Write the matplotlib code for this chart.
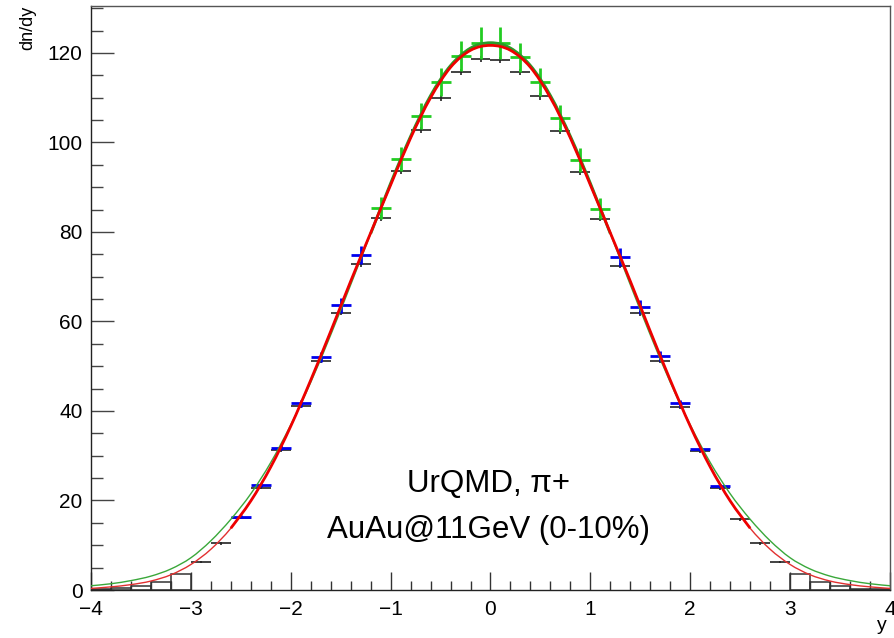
import numpy as np
import matplotlib
matplotlib.use("Agg")
import matplotlib.pyplot as plt
from matplotlib.path import Path
from matplotlib.patches import PathPatch
from matplotlib.ticker import MultipleLocator

plt.rcParams['font.family'] = ['Liberation Sans', 'DejaVu Sans']

# ---- full UrQMD histogram, bin width 0.2 ----
bin_half = 0.1
hist_y = [-2.9, -2.7, -2.5, -2.3, -2.1, -1.9, -1.7, -1.5, -1.3, -1.1,
          -0.9, -0.7, -0.5, -0.3, -0.1, 0.1, 0.3, 0.5, 0.7, 0.9,
          1.1, 1.3, 1.5, 1.7, 1.9, 2.1, 2.3, 2.5, 2.7, 2.9]
hist_dndy = [6.2, 10.4, 16.1, 22.9, 31.2, 41.1, 51.2, 61.9, 72.8, 83.1,
             93.6, 102.8, 109.9, 115.8, 118.7, 118.5, 115.7, 110.3, 102.5, 93.4,
             83.0, 72.5, 61.8, 51.2, 40.9, 31.1, 22.8, 15.8, 10.4, 6.3]
hist_err = [0.2, 0.25, 0.3, 0.35, 0.4, 0.45, 0.5, 0.55, 0.6, 0.6,
            0.65, 0.65, 0.7, 0.7, 0.7, 0.7, 0.7, 0.7, 0.65, 0.65,
            0.6, 0.6, 0.55, 0.5, 0.45, 0.4, 0.35, 0.3, 0.25, 0.2]

# tail bins drawn as open bars
tail_y = [-3.9, -3.7, -3.5, -3.3, -3.1, 3.1, 3.3, 3.5, 3.7, 3.9]
tail_dndy = [0.3, 0.35, 0.9, 1.7, 3.5, 3.5, 1.7, 0.8, 0.25, 0.3]

# ---- mid-rapidity acceptance (green) ----
green_y = [-1.1, -0.9, -0.7, -0.5, -0.3, -0.1, 0.1, 0.3, 0.5, 0.7, 0.9, 1.1]
green_dndy = [85.4, 96.4, 105.9, 113.5, 119.3, 122.2,
              122.2, 119.0, 113.6, 105.5, 96.1, 85.2]
green_err = [2.4, 2.7, 2.9, 3.1, 3.3, 3.5, 3.5, 3.3, 3.1, 2.9, 2.7, 2.4]

# ---- forward acceptance (blue) ----
blue_y = [-2.5, -2.3, -2.1, -1.9, -1.7, -1.5, -1.3,
          1.3, 1.5, 1.7, 1.9, 2.1, 2.3]
blue_dndy = [16.4, 23.4, 31.8, 41.7, 52.1, 63.6, 74.8,
             74.4, 63.2, 52.2, 41.7, 31.6, 23.2]
blue_err = [0.3, 0.45, 0.6, 0.8, 1.1, 1.6, 2.0,
            2.0, 1.6, 1.1, 0.8, 0.6, 0.45]

# ---- fit curves ----
curve_y = [-4.0, -3.8, -3.6, -3.4, -3.2, -3.0, -2.8, -2.6, -2.4, -2.2, -2.0,
           -1.8, -1.6, -1.4, -1.2, -1.0, -0.8, -0.6, -0.4, -0.2, 0.0,
           0.2, 0.4, 0.6, 0.8, 1.0, 1.2, 1.4, 1.6, 1.8, 2.0,
           2.2, 2.4, 2.6, 2.8, 3.0, 3.2, 3.4, 3.6, 3.8, 4.0]
red_fit = [0.35, 0.7, 1.2, 2.0, 3.4, 5.7, 9.1, 13.8, 19.9, 27.5, 36.6,
           46.9, 57.8, 69.0, 79.8, 90.5, 101.0, 110.0, 116.8, 120.6, 121.7,
           120.6, 116.8, 110.0, 101.0, 90.5, 79.8, 69.0, 57.8, 46.9, 36.6,
           27.5, 19.9, 13.8, 9.1, 5.7, 3.4, 2.0, 1.2, 0.7, 0.35]
green_fit = [0.95, 1.4, 2.1, 3.1, 4.7, 7.2, 11.0, 15.8, 21.5, 28.5, 36.9,
             46.4, 57.0, 68.2, 79.6, 90.9, 101.4, 110.5, 117.2, 121.1, 122.3,
             121.1, 117.2, 110.5, 101.4, 90.9, 79.6, 68.2, 57.0, 46.4, 36.9,
             28.5, 21.5, 15.8, 11.0, 7.2, 4.7, 3.1, 2.1, 1.4, 0.95]
red_range = (-2.6, 2.6)
green_range = (-1.2, 1.2)


def smooth_path(xs, ys):
    """Cubic Bezier path through the given points (Catmull-Rom tangents)."""
    pts = np.column_stack([xs, ys]).astype(float)
    n = len(pts)
    verts = [pts[0]]
    codes = [Path.MOVETO]
    for i in range(n - 1):
        p0 = pts[i - 1] if i > 0 else pts[i]
        p1 = pts[i]
        p2 = pts[i + 1]
        p3 = pts[i + 2] if i + 2 < n else pts[i + 1]
        verts += [p1 + (p2 - p0) / 6.0, p2 - (p3 - p1) / 6.0, p2]
        codes += [Path.CURVE4] * 3
    return Path(verts, codes)


def draw_curve(ax, xs, ys, color, lw, lo=None, hi=None, z=5):
    xs = np.asarray(xs)
    ys = np.asarray(ys)
    if lo is not None:
        m = (xs >= lo - 1e-9) & (xs <= hi + 1e-9)
        xs, ys = xs[m], ys[m]
    ax.add_patch(PathPatch(smooth_path(xs, ys), fill=False,
                           edgecolor=color, linewidth=lw, zorder=z,
                           capstyle='butt'))


fig = plt.figure(figsize=(8.95, 6.38), dpi=100)
ax = fig.add_axes([91 / 895, 48 / 638, 799 / 895, 584 / 638])

# histogram
ax.errorbar(hist_y, hist_dndy, xerr=bin_half, yerr=hist_err, fmt='none',
            ecolor='#222222', elinewidth=1.2, capsize=0, zorder=2)
ax.bar(tail_y, tail_dndy, width=2 * bin_half, fill=False,
       edgecolor='#333333', linewidth=1.1, zorder=2)

# points
ax.errorbar(blue_y, blue_dndy, xerr=bin_half, yerr=blue_err, fmt='none',
            ecolor='#0000ee', elinewidth=2.0, capsize=0, zorder=3)
ax.errorbar(green_y, green_dndy, xerr=bin_half, yerr=green_err, fmt='none',
            ecolor='#22cc22', elinewidth=2.0, capsize=0, zorder=3)

# fits: thin over full range, thick over the fit range
draw_curve(ax, curve_y, green_fit, '#3aa83a', 1.0, z=4)
draw_curve(ax, curve_y, red_fit, '#e23030', 1.0, z=4)
draw_curve(ax, curve_y, green_fit, '#2a9a2a', 2.0, *green_range, z=5)
draw_curve(ax, curve_y, red_fit, '#ee0000', 2.0, *red_range, z=6)

ax.set_xlim(-4, 4)
ax.set_ylim(0, 130.5)
ax.xaxis.set_major_locator(MultipleLocator(1))
ax.xaxis.set_minor_locator(MultipleLocator(0.2))
ax.yaxis.set_major_locator(MultipleLocator(20))
ax.yaxis.set_minor_locator(MultipleLocator(5))

ax.tick_params(axis='x', which='major', direction='in', length=13, width=1,
               color='#333333', labelsize=15, pad=7, top=False)
ax.tick_params(axis='x', which='minor', direction='in', length=6.5, width=1,
               color='#333333', top=False)
ax.tick_params(axis='y', which='major', direction='in', length=16.5, width=1,
               color='#444444', labelsize=15, pad=6, right=False)
ax.tick_params(axis='y', which='minor', direction='in', length=8.6, width=1,
               color='#444444', right=False)

for side in ('left', 'bottom'):
    ax.spines[side].set_color('#222222')
    ax.spines[side].set_linewidth(1.0)
for side in ('top', 'right'):
    ax.spines[side].set_color('#555555')
    ax.spines[side].set_linewidth(1.0)

ax.text(-0.02, 21.9, 'UrQMD, \u03c0+', ha='center', va='baseline', fontsize=22.5)
ax.text(-0.02, 11.6, 'AuAu@11GeV (0-10%)', ha='center', va='baseline',
        fontsize=22.5)

fig.text(28 / 895, 1 - 6 / 638, 'dn/dy', rotation=90, ha='center', va='top',
         fontsize=13)
fig.text(882 / 895, 1 - 626 / 638, 'y', ha='center', va='center', fontsize=14)

fig.savefig('out.png', dpi=100)
